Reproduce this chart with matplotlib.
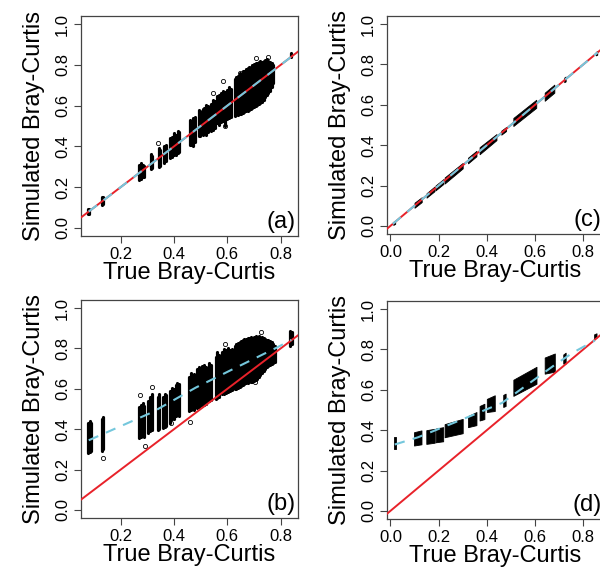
import matplotlib
matplotlib.use("Agg")
import matplotlib.pyplot as plt

plt.rcParams['font.family'] = ['Liberation Sans', 'DejaVu Sans']

# panels (a) and (b): columns of simulated values at each true value (x, lowest, highest)
a_col_x = [0.078, 0.082, 0.130, 0.134, 0.270, 0.276, 0.282, 0.288, 0.314, 0.318,
           0.344, 0.348, 0.362, 0.368, 0.386, 0.392, 0.400, 0.406, 0.414, 0.419,
           0.458, 0.464, 0.472, 0.477, 0.492, 0.497, 0.507, 0.512, 0.520, 0.526,
           0.537, 0.545, 0.552, 0.563, 0.570, 0.578, 0.585, 0.592, 0.600, 0.607,
           0.615, 0.628, 0.634, 0.640, 0.646, 0.652, 0.658, 0.664, 0.670, 0.676,
           0.682, 0.688, 0.694, 0.700, 0.706, 0.712, 0.718, 0.724, 0.730, 0.736,
           0.742, 0.748, 0.754, 0.760, 0.766, 0.772, 0.838]
a_col_lo = [0.068, 0.070, 0.112, 0.115, 0.235, 0.240, 0.250, 0.252, 0.290, 0.292,
            0.300, 0.305, 0.318, 0.326, 0.345, 0.350, 0.358, 0.360, 0.366, 0.370,
            0.408, 0.405, 0.400, 0.420, 0.449, 0.452, 0.455, 0.460, 0.457, 0.470,
            0.475, 0.482, 0.490, 0.514, 0.505, 0.520, 0.525, 0.500, 0.535, 0.540,
            0.545, 0.550, 0.555, 0.556, 0.560, 0.560, 0.565, 0.570, 0.575, 0.575,
            0.580, 0.585, 0.590, 0.595, 0.600, 0.605, 0.610, 0.615, 0.620, 0.630,
            0.640, 0.650, 0.660, 0.670, 0.690, 0.710, 0.838]
a_col_hi = [0.092, 0.095, 0.150, 0.153, 0.310, 0.318, 0.308, 0.305, 0.362, 0.355,
            0.390, 0.380, 0.400, 0.408, 0.440, 0.448, 0.466, 0.455, 0.474, 0.470,
            0.531, 0.525, 0.539, 0.545, 0.580, 0.575, 0.585, 0.590, 0.605, 0.600,
            0.610, 0.630, 0.625, 0.646, 0.650, 0.660, 0.670, 0.668, 0.675, 0.690,
            0.680, 0.730, 0.740, 0.745, 0.760, 0.755, 0.770, 0.770, 0.780, 0.785,
            0.790, 0.790, 0.800, 0.805, 0.810, 0.810, 0.815, 0.820, 0.815, 0.820,
            0.825, 0.830, 0.820, 0.815, 0.810, 0.800, 0.860]
a_out_x = [0.585, 0.545, 0.341, 0.647, 0.707, 0.754, 0.735, 0.591]
a_out_y = [0.720, 0.660, 0.416, 0.761, 0.836, 0.840, 0.646, 0.498]

b_col_x = [0.077, 0.083, 0.089, 0.130, 0.135, 0.270, 0.276, 0.282, 0.288, 0.304,
           0.310, 0.316, 0.338, 0.344, 0.360, 0.366, 0.371, 0.386, 0.392, 0.398,
           0.406, 0.412, 0.418, 0.457, 0.463, 0.469, 0.475, 0.487, 0.494, 0.506,
           0.513, 0.520, 0.531, 0.538, 0.556, 0.562, 0.569, 0.581, 0.588, 0.595,
           0.602, 0.609, 0.616, 0.628, 0.634, 0.640, 0.646, 0.652, 0.658, 0.664,
           0.670, 0.676, 0.682, 0.688, 0.694, 0.700, 0.706, 0.712, 0.718, 0.724,
           0.730, 0.736, 0.742, 0.748, 0.754, 0.760, 0.766, 0.772, 0.778, 0.836,
           0.841]
b_col_lo = [0.282, 0.285, 0.290, 0.290, 0.300, 0.357, 0.360, 0.365, 0.360, 0.380,
            0.390, 0.398, 0.398, 0.400, 0.406, 0.410, 0.415, 0.430, 0.448, 0.450,
            0.465, 0.470, 0.465, 0.490, 0.495, 0.500, 0.495, 0.505, 0.510, 0.515,
            0.520, 0.525, 0.540, 0.545, 0.548, 0.555, 0.560, 0.572, 0.575, 0.580,
            0.585, 0.590, 0.595, 0.600, 0.600, 0.605, 0.610, 0.615, 0.620, 0.625,
            0.630, 0.630, 0.632, 0.635, 0.635, 0.640, 0.645, 0.650, 0.660, 0.670,
            0.680, 0.690, 0.700, 0.710, 0.715, 0.720, 0.725, 0.730, 0.735, 0.813,
            0.820]
b_col_hi = [0.430, 0.440, 0.432, 0.450, 0.460, 0.510, 0.520, 0.530, 0.515, 0.540,
            0.560, 0.572, 0.560, 0.572, 0.560, 0.572, 0.570, 0.590, 0.605, 0.600,
            0.620, 0.630, 0.625, 0.660, 0.680, 0.670, 0.675, 0.700, 0.710, 0.715,
            0.720, 0.710, 0.728, 0.720, 0.760, 0.780, 0.770, 0.780, 0.797, 0.790,
            0.800, 0.790, 0.795, 0.810, 0.820, 0.825, 0.830, 0.835, 0.840, 0.845,
            0.845, 0.850, 0.850, 0.855, 0.850, 0.855, 0.860, 0.855, 0.860, 0.855,
            0.855, 0.850, 0.845, 0.840, 0.840, 0.835, 0.830, 0.820, 0.810, 0.887,
            0.880]
b_out_x = [0.133, 0.291, 0.273, 0.319, 0.460, 0.390, 0.591, 0.728, 0.705]
b_out_y = [0.257, 0.318, 0.567, 0.608, 0.436, 0.430, 0.820, 0.882, 0.632]

# panels (c) and (d): small clusters (x0, x1, low at x0, high at x0, low at x1, high at x1)
c_clusters = [
    (0.012, 0.020, 0.005, 0.020, 0.010, 0.025),
    (0.100, 0.130, 0.090, 0.115, 0.118, 0.142),
    (0.150, 0.183, 0.140, 0.162, 0.172, 0.195),
    (0.187, 0.220, 0.176, 0.200, 0.208, 0.232),
    (0.225, 0.300, 0.210, 0.240, 0.285, 0.312),
    (0.322, 0.357, 0.310, 0.338, 0.345, 0.372),
    (0.370, 0.440, 0.355, 0.390, 0.425, 0.455),
    (0.460, 0.480, 0.452, 0.472, 0.470, 0.490),
    (0.510, 0.605, 0.495, 0.535, 0.585, 0.625),
    (0.640, 0.680, 0.620, 0.660, 0.660, 0.700),
    (0.721, 0.727, 0.712, 0.735, 0.716, 0.740),
    (0.852, 0.858, 0.845, 0.862, 0.848, 0.866),
]

d_clusters = [
    (0.016, 0.025, 0.307, 0.365, 0.307, 0.365),
    (0.098, 0.129, 0.324, 0.390, 0.330, 0.399),
    (0.149, 0.184, 0.332, 0.400, 0.338, 0.407),
    (0.188, 0.219, 0.340, 0.408, 0.345, 0.415),
    (0.225, 0.300, 0.365, 0.430, 0.385, 0.456),
    (0.322, 0.357, 0.415, 0.470, 0.425, 0.490),
    (0.370, 0.390, 0.448, 0.520, 0.455, 0.531),
    (0.400, 0.433, 0.490, 0.555, 0.495, 0.573),
    (0.468, 0.478, 0.515, 0.575, 0.520, 0.581),
    (0.510, 0.606, 0.570, 0.650, 0.630, 0.714),
    (0.640, 0.682, 0.680, 0.760, 0.690, 0.780),
    (0.717, 0.727, 0.730, 0.775, 0.730, 0.784),
    (0.845, 0.855, 0.855, 0.875, 0.858, 0.880),
]

# fitted (dashed blue) curves
a_fit_x = [0.08, 0.84]
a_fit_y = [0.08, 0.84]
b_fit_x = [0.08, 0.32, 0.48, 0.62, 0.785, 0.84]
b_fit_y = [0.345, 0.485, 0.605, 0.697, 0.804, 0.842]
c_fit_x = [0.01, 0.86]
c_fit_y = [0.01, 0.86]
d_fit_x = [0.018, 0.115, 0.322, 0.463, 0.680, 0.758, 0.848]
d_fit_y = [0.329, 0.365, 0.465, 0.535, 0.722, 0.785, 0.844]

yticks = [0.0, 0.2, 0.4, 0.6, 0.8, 1.0]
xticks_ab = [0.2, 0.4, 0.6, 0.8]
xticks_cd = [0.0, 0.2, 0.4, 0.6, 0.8]

RED = '#e8222a'
BLUE = '#74c7dc'


def setup(ax, xlim, xticks, tag, fit_x, fit_y):
    ax.axline((0, 0), slope=1, color=RED, lw=1.4, zorder=3)
    ax.plot(fit_x, fit_y, color=BLUE, lw=1.5, dashes=(5, 4), zorder=4)
    ax.set_xlim(*xlim)
    ax.set_ylim(-0.04, 1.04)
    ax.set_xticks(xticks)
    ax.set_xticklabels([f'{t:.1f}' for t in xticks])
    ax.set_yticks(yticks)
    ax.set_yticklabels([f'{t:.1f}' for t in yticks], rotation=90, va='center')
    ax.tick_params(length=5, width=0.8, color='#444444', labelsize=12, pad=3)
    for s in ax.spines.values():
        s.set_color('#444444')
        s.set_linewidth(0.9)
    ax.set_xlabel('True Bray-Curtis', fontsize=17, labelpad=0)
    ax.set_ylabel('Simulated Bray-Curtis', fontsize=17, labelpad=7)
    ax.text(0.99, 0.015, tag, transform=ax.transAxes, ha='right', va='bottom',
            fontsize=17)


def column_panel(ax, xs, lo, hi, out_x, out_y):
    ax.vlines(xs, lo, hi, color='black', lw=2.3, capstyle='round', zorder=2)
    ax.plot(out_x, out_y, 'o', mfc='none', mec='black', ms=3, mew=0.6, zorder=2)


def cluster_panel(ax, clusters):
    for x0, x1, lo0, hi0, lo1, hi1 in clusters:
        ax.fill_between([x0, x1], [lo0, lo1], [hi0, hi1], color='black',
                        edgecolor='black', linewidth=0.6, zorder=2)


def main() -> None:
    fig = plt.figure(figsize=(6, 5.69), dpi=100)
    W, H = 600, 569
    w = 217 / W

    ax = fig.add_axes([81 / W, (H - 236) / H, w, 220 / H])
    column_panel(ax, a_col_x, a_col_lo, a_col_hi, a_out_x, a_out_y)
    setup(ax, (0.051, 0.865), xticks_ab, '(a)', a_fit_x, a_fit_y)

    ax = fig.add_axes([81 / W, (H - 518) / H, w, 218 / H])
    column_panel(ax, b_col_x, b_col_lo, b_col_hi, b_out_x, b_out_y)
    setup(ax, (0.051, 0.865), xticks_ab, '(b)', b_fit_x, b_fit_y)

    ax = fig.add_axes([387 / W, (H - 234) / H, w, 218 / H])
    cluster_panel(ax, c_clusters)
    setup(ax, (-0.014, 0.886), xticks_cd, '(c)', c_fit_x, c_fit_y)

    ax = fig.add_axes([387 / W, (H - 519) / H, w, 218 / H])
    cluster_panel(ax, d_clusters)
    setup(ax, (-0.014, 0.886), xticks_cd, '(d)', d_fit_x, d_fit_y)

    fig.savefig('out.png', dpi=100)


if __name__ == "__main__":
    main()
